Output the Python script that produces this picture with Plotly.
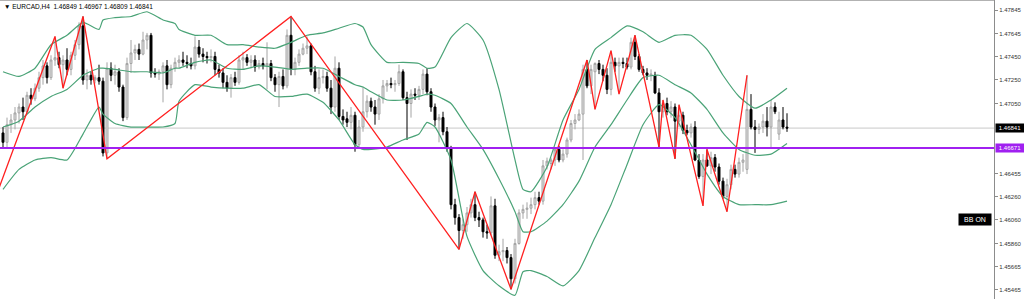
import plotly.graph_objects as go

# ---------------- data ----------------
open_ = [1.4680,1.4672,1.4687,1.4691,1.4697,1.4702,1.4698,1.4712,1.4709,1.4718,
1.4727,1.4737,1.4727,1.4742,1.4744,1.4738,1.4742,1.4734,1.4746,1.4755,
1.4771,1.4725,1.4729,1.4725,1.4727,1.4724,1.4663,1.4735,1.4729,1.4732,
1.4719,1.4693,1.4739,1.4748,1.4751,1.4747,1.4759,1.4763,1.4731,1.4730,
1.4732,1.4737,1.4721,1.4735,1.4740,1.4742,1.4740,1.4739,1.4737,1.4753,
1.4747,1.4745,1.4744,1.4745,1.4734,1.4731,1.4723,1.4718,1.4727,1.4723,
1.4742,1.4744,1.4740,1.4742,1.4736,1.4739,1.4737,1.4739,1.4727,1.4721,
1.4728,1.4720,1.4763,1.4734,1.4740,1.4747,1.4752,1.4754,1.4732,1.4718,
1.4727,1.4728,1.4718,1.4702,1.4735,1.4694,1.4692,1.4689,1.4695,1.4670,
1.4685,1.4698,1.4707,1.4702,1.4696,1.4709,1.4720,1.4722,1.4721,1.4722,
1.4732,1.4710,1.4705,1.4713,1.4712,1.4717,1.4730,1.4715,1.4702,1.4691,
1.4693,1.4681,1.4667,1.4619,1.4608,1.4597,1.4602,1.4612,1.4619,1.4608,
1.4606,1.4596,1.4595,1.4618,1.4576,1.4579,1.4580,1.4574,1.4556,1.4586,
1.4612,1.4615,1.4616,1.4619,1.4625,1.4622,1.4652,1.4654,1.4657,1.4666,
1.4657,1.4662,1.4674,1.4688,1.4691,1.4696,1.4734,1.4720,1.4732,1.4739,
1.4734,1.4729,1.4717,1.4740,1.4737,1.4740,1.4739,1.4736,1.4757,1.4745,
1.4734,1.4731,1.4729,1.4729,1.4714,1.4698,1.4705,1.4698,1.4702,1.4690,
1.4695,1.4682,1.4680,1.4685,1.4657,1.4643,1.4657,1.4652,1.4659,1.4651,
1.4639,1.4626,1.4636,1.4649,1.4645,1.4655,1.4649,1.4700,1.4685,1.4683,
1.4685,1.4690,1.4685,1.4702,1.4679,1.4691,1.46849]

high = [1.4685,1.4693,1.4696,1.4702,1.4705,1.4710,1.4715,1.4718,1.4722,1.4732,
1.4742,1.4740,1.4746,1.4762,1.4749,1.4746,1.4752,1.4749,1.4759,1.4774,
1.4779,1.4734,1.4732,1.4729,1.4738,1.4727,1.4740,1.4740,1.4738,1.4735,
1.4721,1.4744,1.4759,1.4755,1.4756,1.4766,1.4765,1.4765,1.4735,1.4734,
1.4740,1.4742,1.4738,1.4744,1.4746,1.4749,1.4746,1.4744,1.4762,1.4759,
1.4752,1.4749,1.4751,1.4749,1.4738,1.4735,1.4729,1.4730,1.4732,1.4746,
1.4749,1.4747,1.4746,1.4746,1.4742,1.4744,1.4757,1.4742,1.4730,1.4732,
1.4734,1.4768,1.4779,1.4744,1.4751,1.4756,1.4762,1.4756,1.4737,1.4734,
1.4734,1.4732,1.4725,1.4745,1.4740,1.4700,1.4698,1.4702,1.4698,1.4691,
1.4719,1.4712,1.4710,1.4708,1.4713,1.4725,1.4725,1.4727,1.4725,1.4738,
1.4734,1.4715,1.4717,1.4718,1.4720,1.4734,1.4735,1.4718,1.4705,1.4696,
1.4698,1.4685,1.4669,1.4624,1.4611,1.4607,1.4617,1.4624,1.4630,1.4613,
1.4608,1.4602,1.4626,1.4624,1.4585,1.4590,1.4583,1.4577,1.4590,1.4615,
1.4619,1.4621,1.4625,1.4630,1.4630,1.4657,1.4659,1.4659,1.4664,1.4669,
1.4666,1.4676,1.4691,1.4696,1.4700,1.4738,1.4742,1.4738,1.4740,1.4742,
1.4738,1.4735,1.4750,1.4744,1.4744,1.4744,1.4744,1.4761,1.4763,1.4747,
1.4737,1.4735,1.4734,1.4732,1.4718,1.4708,1.4710,1.4707,1.4705,1.4704,
1.4698,1.4687,1.4688,1.4690,1.4662,1.4662,1.4666,1.4664,1.4662,1.4654,
1.4642,1.4641,1.4653,1.4653,1.4659,1.4662,1.4729,1.4713,1.4691,1.4688,
1.4696,1.4702,1.4708,1.4706,1.4698,1.4702,1.46967]

low = [1.4668,1.4668,1.4680,1.4683,1.4688,1.4691,1.4696,1.4704,1.4707,1.4715,
1.4721,1.4722,1.4725,1.4737,1.4735,1.4718,1.4729,1.4729,1.4742,1.4751,
1.4721,1.4717,1.4721,1.4722,1.4721,1.4660,1.4658,1.4724,1.4721,1.4715,
1.4690,1.4691,1.4731,1.4742,1.4742,1.4746,1.4751,1.4727,1.4727,1.4725,
1.4706,1.4717,1.4718,1.4732,1.4735,1.4737,1.4735,1.4734,1.4734,1.4744,
1.4740,1.4739,1.4740,1.4729,1.4727,1.4718,1.4715,1.4710,1.4720,1.4721,
1.4734,1.4737,1.4735,1.4732,1.4734,1.4734,1.4717,1.4724,1.4715,1.4702,
1.4717,1.4718,1.4729,1.4729,1.4737,1.4746,1.4747,1.4729,1.4715,1.4713,
1.4722,1.4715,1.4696,1.4698,1.4691,1.4687,1.4685,1.4683,1.4664,1.4668,
1.4681,1.4693,1.4698,1.4687,1.4691,1.4705,1.4715,1.4718,1.4715,1.4720,
1.4708,1.4674,1.4693,1.4708,1.4708,1.4713,1.4712,1.4698,1.4686,1.4672,
1.4678,1.4664,1.4615,1.4602,1.4581,1.4590,1.4596,1.4608,1.4605,1.4600,
1.4591,1.4590,1.4593,1.4573,1.4571,1.4571,1.4569,1.4547,1.4552,1.4585,
1.4607,1.4607,1.4611,1.4615,1.4619,1.4619,1.4649,1.4649,1.4652,1.4655,
1.4655,1.4659,1.4672,1.4683,1.4690,1.4657,1.4718,1.4713,1.4700,1.4730,
1.4724,1.4713,1.4712,1.4732,1.4713,1.4735,1.4734,1.4734,1.4742,1.4732,
1.4729,1.4725,1.4724,1.4713,1.4668,1.4693,1.4695,1.4693,1.4658,1.4685,
1.4679,1.4678,1.4676,1.4656,1.4641,1.4618,1.4651,1.4645,1.4647,1.4636,
1.4624,1.4613,1.4632,1.4642,1.4642,1.4647,1.4645,1.4683,1.4663,1.4679,
1.4680,1.4677,1.4668,1.4696,1.4674,1.4683,1.46809]

close = [1.4672,1.4687,1.4691,1.4697,1.4702,1.4698,1.4712,1.4709,1.4718,1.4727,
1.4737,1.4727,1.4742,1.4744,1.4738,1.4742,1.4734,1.4746,1.4755,1.4771,
1.4725,1.4729,1.4725,1.4727,1.4724,1.4663,1.4735,1.4729,1.4732,1.4719,
1.4693,1.4739,1.4748,1.4751,1.4747,1.4759,1.4763,1.4731,1.4730,1.4732,
1.4737,1.4721,1.4735,1.4740,1.4742,1.4740,1.4739,1.4737,1.4753,1.4747,
1.4745,1.4744,1.4745,1.4734,1.4731,1.4723,1.4718,1.4727,1.4723,1.4742,
1.4744,1.4740,1.4742,1.4736,1.4739,1.4737,1.4739,1.4727,1.4721,1.4728,
1.4720,1.4763,1.4734,1.4740,1.4747,1.4752,1.4754,1.4732,1.4718,1.4727,
1.4728,1.4718,1.4702,1.4735,1.4694,1.4691,1.4689,1.4695,1.4670,1.4685,
1.4698,1.4707,1.4702,1.4696,1.4709,1.4720,1.4722,1.4721,1.4722,1.4732,
1.4710,1.4705,1.4713,1.4712,1.4717,1.4730,1.4715,1.4702,1.4691,1.4693,
1.4681,1.4667,1.4619,1.4608,1.4597,1.4602,1.4612,1.4619,1.4608,1.4606,
1.4596,1.4595,1.4618,1.4576,1.4579,1.4580,1.4574,1.4556,1.4586,1.4612,
1.4615,1.4616,1.4619,1.4625,1.4622,1.4652,1.4656,1.4657,1.4666,1.4657,
1.4662,1.4674,1.4688,1.4691,1.4696,1.4734,1.4720,1.4734,1.4739,1.4734,
1.4729,1.4717,1.4740,1.4737,1.4740,1.4739,1.4736,1.4757,1.4745,1.4734,
1.4731,1.4729,1.4730,1.4714,1.4698,1.4705,1.4698,1.4702,1.4690,1.4695,
1.4682,1.4680,1.4685,1.4657,1.4643,1.4657,1.4652,1.4659,1.4651,1.4639,
1.4626,1.4636,1.4649,1.4645,1.4655,1.4657,1.4700,1.4685,1.4683,1.4685,
1.4690,1.4685,1.4702,1.4698,1.4691,1.4685,1.46841]

bar_index = list(range(len(close)))

# ZigZag pivots (bar index, price)
zz_idx = [-2, 13, 15, 20, 26, 72, 114, 118, 127, 146, 148, 152, 154, 158,
          164, 165, 168, 169, 175, 176, 181, 186]
zz_price = [1.4624, 1.4762, 1.4718, 1.4779, 1.4658, 1.4779, 1.4581, 1.4630,
            1.4547, 1.4742, 1.4700, 1.4750, 1.4713, 1.4763, 1.4668, 1.4708,
            1.4658, 1.4704, 1.4618, 1.4666, 1.4613, 1.4729]

# Bollinger Bands
bb_idx = [0, 4, 8, 12, 16, 20, 24, 25, 28, 32, 36, 40, 43, 44, 48, 52, 56, 60,
          64, 68, 72, 76, 80, 84, 88, 90, 92, 96, 100, 104, 106, 108, 112, 116,
          120, 124, 128, 130, 132, 136, 140, 144, 148, 152, 156, 160, 164, 168,
          172, 176, 180, 184, 188, 192, 196]
bb_upper = [1.4732, 1.4728, 1.4735, 1.4755, 1.4763, 1.4774, 1.4768, 1.4776,
            1.4778, 1.4779, 1.4783, 1.4776, 1.4773, 1.4768, 1.4763, 1.4763,
            1.4755, 1.4755, 1.4753, 1.4752, 1.4757, 1.4763, 1.4765, 1.4769,
            1.4773, 1.4770, 1.4755, 1.4740, 1.4740, 1.4739, 1.4735, 1.4736,
            1.4761, 1.4773, 1.4759, 1.4717, 1.4657, 1.4632, 1.4630, 1.4651,
            1.4691, 1.4717, 1.4751, 1.4761, 1.4771, 1.4766, 1.4757, 1.4763,
            1.4763, 1.4751, 1.4729, 1.4711, 1.4701, 1.4708, 1.4718]
bb_mid = [1.4685, 1.4690, 1.4702, 1.4711, 1.4717, 1.4729, 1.4735, 1.4735,
          1.4734, 1.4732, 1.4732, 1.4731, 1.4735, 1.4735, 1.4740, 1.4742,
          1.4735, 1.4734, 1.4737, 1.4736, 1.4734, 1.4735, 1.4735, 1.4728,
          1.4721, 1.4719, 1.4715, 1.4708, 1.4708, 1.4711, 1.4713, 1.4712,
          1.4705, 1.4685, 1.4666, 1.4641, 1.4613, 1.4596, 1.4596, 1.4605,
          1.4619, 1.4639, 1.4668, 1.4687, 1.4708, 1.4727, 1.4729, 1.4721,
          1.4714, 1.4700, 1.4680, 1.4666, 1.4661, 1.4662, 1.4671]
bb_lower = [1.4632, 1.4649, 1.4657, 1.4659, 1.4657, 1.4679, 1.4702, 1.4696,
            1.4688, 1.4685, 1.4685, 1.4685, 1.4688, 1.4707, 1.4721, 1.4719,
            1.4718, 1.4718, 1.4721, 1.4711, 1.4711, 1.4713, 1.4706, 1.4691,
            1.4670, 1.4666, 1.4666, 1.4668, 1.4674, 1.4679, 1.4689, 1.4685,
            1.4657, 1.4592, 1.4563, 1.4550, 1.4542, 1.4562, 1.4563, 1.4558,
            1.4550, 1.4563, 1.4591, 1.4619, 1.4653, 1.4687, 1.4704, 1.4693,
            1.4670, 1.4645, 1.4626, 1.4619, 1.4619, 1.4619, 1.4622]

tick_vals = [1.47845, 1.47645, 1.47450, 1.47250, 1.47050, 1.46455, 1.46260,
             1.46060, 1.45860, 1.45665, 1.45465]
tick_text = ["1.47845", "1.47645", "1.47450", "1.47250", "1.47050", "1.46455",
             "1.46260", "1.46060", "1.45860", "1.45665", "1.45465"]

current_price = 1.46841
level_price = 1.46671
title_text = "▼ EURCAD,H4  1.46849 1.46967 1.46809 1.46841"

# ---------------- figure ----------------
FONT = "Liberation Sans, Arial, sans-serif"
BB_COLOR = "#4aa377"
PURPLE = "#a020f0"

fig = go.Figure()

for ys in (bb_upper, bb_mid, bb_lower):
    fig.add_trace(go.Scatter(x=bb_idx, y=ys, mode="lines",
                             line=dict(color=BB_COLOR, width=1.2, shape="spline", smoothing=0.5),
                             hoverinfo="skip", showlegend=False))

fig.add_trace(go.Candlestick(
    x=bar_index, open=open_, high=high, low=low, close=close,
    increasing=dict(line=dict(color="#a4a4a4", width=1), fillcolor="#e4e4e4"),
    decreasing=dict(line=dict(color="#000000", width=1), fillcolor="#000000"),
    whiskerwidth=0, showlegend=False, hoverinfo="skip"))

fig.add_trace(go.Scatter(x=zz_idx, y=zz_price, mode="lines",
                         line=dict(color="#ff2020", width=1.3),
                         hoverinfo="skip", showlegend=False))

shapes = [
    dict(type="line", xref="paper", x0=0, x1=1, yref="y", y0=current_price, y1=current_price,
         line=dict(color="#c8c8c8", width=1), layer="below"),
    dict(type="line", xref="paper", x0=0, x1=1, yref="y", y0=level_price, y1=level_price,
         line=dict(color=PURPLE, width=2)),
    dict(type="line", xref="paper", x0=0, x1=1, yref="paper", y0=1, y1=1,
         line=dict(color="#999999", width=1.5)),
]

annotations = [
    dict(xref="paper", yref="paper", x=0, y=1, xanchor="left", yanchor="top",
         xshift=2, yshift=-1, text=title_text.replace("  ", "&nbsp; "), showarrow=False,
         font=dict(family=FONT, size=6.5, color="#000000")),
    dict(xref="paper", yref="y", x=1, y=current_price, xanchor="left", yanchor="middle",
         xshift=1, text="1.46841", showarrow=False, bgcolor="#000000",
         width=28, height=8, borderpad=0,
         font=dict(family=FONT, size=6, color="#ffffff")),
    dict(xref="paper", yref="y", x=1, y=level_price, xanchor="left", yanchor="middle",
         xshift=1, text="1.46671", showarrow=False, bgcolor=PURPLE,
         width=28, height=8, borderpad=0,
         font=dict(family=FONT, size=6, color="#ffffff")),
    dict(xref="paper", yref="y", x=1, y=1.4606, xanchor="right", yanchor="middle",
         xshift=-2, text="BB ON", showarrow=False, bgcolor="#000000",
         width=32, height=11, borderpad=0,
         font=dict(family=FONT, size=7, color="#ffffff")),
]

fig.update_layout(
    width=1024, height=299,
    margin=dict(l=0, r=30, t=0, b=0),
    paper_bgcolor="#ffffff", plot_bgcolor="#ffffff",
    showlegend=False, hovermode=False,
    shapes=shapes, annotations=annotations,
    xaxis=dict(range=[-0.75, 247.75], visible=False, rangeslider=dict(visible=False),
               fixedrange=True),
    yaxis=dict(range=[1.45388, 1.47930], side="right", showgrid=False, zeroline=False,
               showline=True, linecolor="#8c8c8c", linewidth=1,
               tickmode="array", tickvals=tick_vals, ticktext=tick_text,
               ticks="outside", ticklen=3, tickcolor="#8c8c8c",
               tickfont=dict(family=FONT, size=6, color="#333333"),
               automargin=False, fixedrange=True),
)

fig.write_html("out.html", config={"displayModeBar": False})
